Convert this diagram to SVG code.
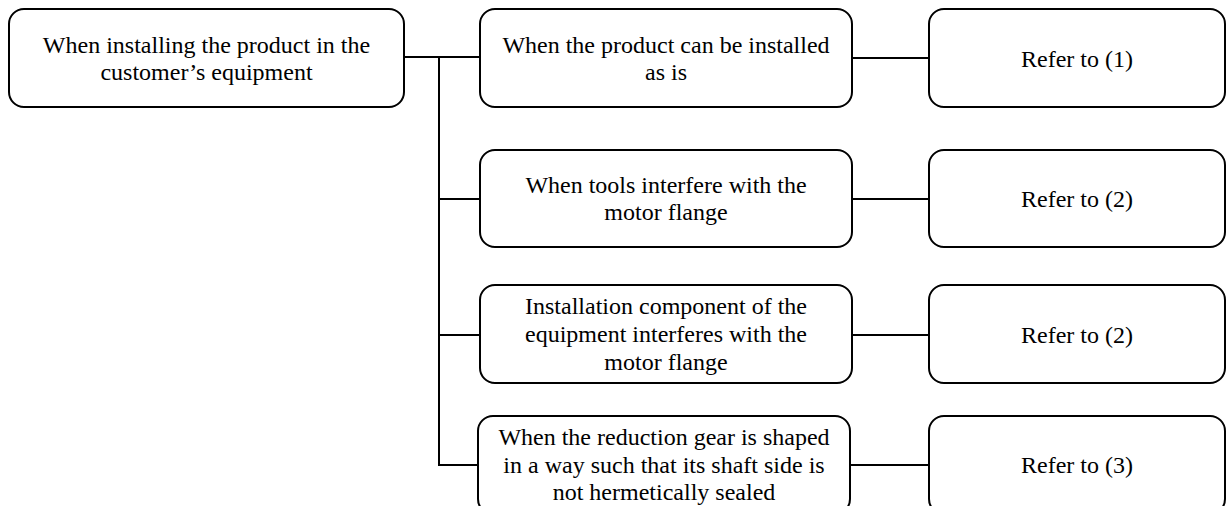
<svg xmlns="http://www.w3.org/2000/svg" width="1226" height="506" viewBox="0 0 1226 506">
<style>
.box{fill:#fff;stroke:#000;stroke-width:2}
.t{font-family:"Liberation Serif","Times New Roman",serif;font-size:24px;fill:#000;text-anchor:middle}
.c{stroke:#000;stroke-width:2;fill:none}
</style>
<rect width="1226" height="506" fill="#fff"/>
<g id="connectors">
<path class="c" d="M404 57H480"/>
<path class="c" d="M439 57V465"/>
<path class="c" d="M439 199H480"/>
<path class="c" d="M439 335H480"/>
<path class="c" d="M438 465H478"/>
<path class="c" d="M852 58H929"/>
<path class="c" d="M852 199H929"/>
<path class="c" d="M852 335H929"/>
<path class="c" d="M850 465H929"/>
</g>
<g id="root">
<rect class="box" x="9" y="9" width="395" height="98" rx="15"/>
<text class="t" x="206.5" y="52.5">When installing the product in the</text>
<text class="t" x="206.5" y="79.5">customer’s equipment</text>
</g>
<g id="case1">
<rect class="box" x="480" y="9" width="372" height="98" rx="15"/>
<text class="t" x="666" y="52.5">When the product can be installed</text>
<text class="t" x="666" y="79.5">as is</text>
</g>
<g id="case2">
<rect class="box" x="480" y="150" width="372" height="97" rx="15"/>
<text class="t" x="666" y="193">When tools interfere with the</text>
<text class="t" x="666" y="220">motor flange</text>
</g>
<g id="case3">
<rect class="box" x="480" y="285" width="372" height="98" rx="15"/>
<text class="t" x="666" y="314">Installation component of the</text>
<text class="t" x="666" y="342">equipment interferes with the</text>
<text class="t" x="666" y="370">motor flange</text>
</g>
<g id="case4">
<rect class="box" x="478" y="416" width="372" height="98" rx="15"/>
<text class="t" x="664" y="445">When the reduction gear is shaped</text>
<text class="t" x="664" y="473">in a way such that its shaft side is</text>
<text class="t" x="664" y="500">not hermetically sealed</text>
</g>
<g id="ref1">
<rect class="box" x="929" y="9" width="296" height="98" rx="15"/>
<text class="t" x="1077" y="67">Refer to (1)</text>
</g>
<g id="ref2a">
<rect class="box" x="929" y="150" width="296" height="97" rx="15"/>
<text class="t" x="1077" y="207">Refer to (2)</text>
</g>
<g id="ref2b">
<rect class="box" x="929" y="285" width="296" height="98" rx="15"/>
<text class="t" x="1077" y="343">Refer to (2)</text>
</g>
<g id="ref3">
<rect class="box" x="929" y="416" width="296" height="98" rx="15"/>
<text class="t" x="1077" y="473">Refer to (3)</text>
</g>
</svg>
